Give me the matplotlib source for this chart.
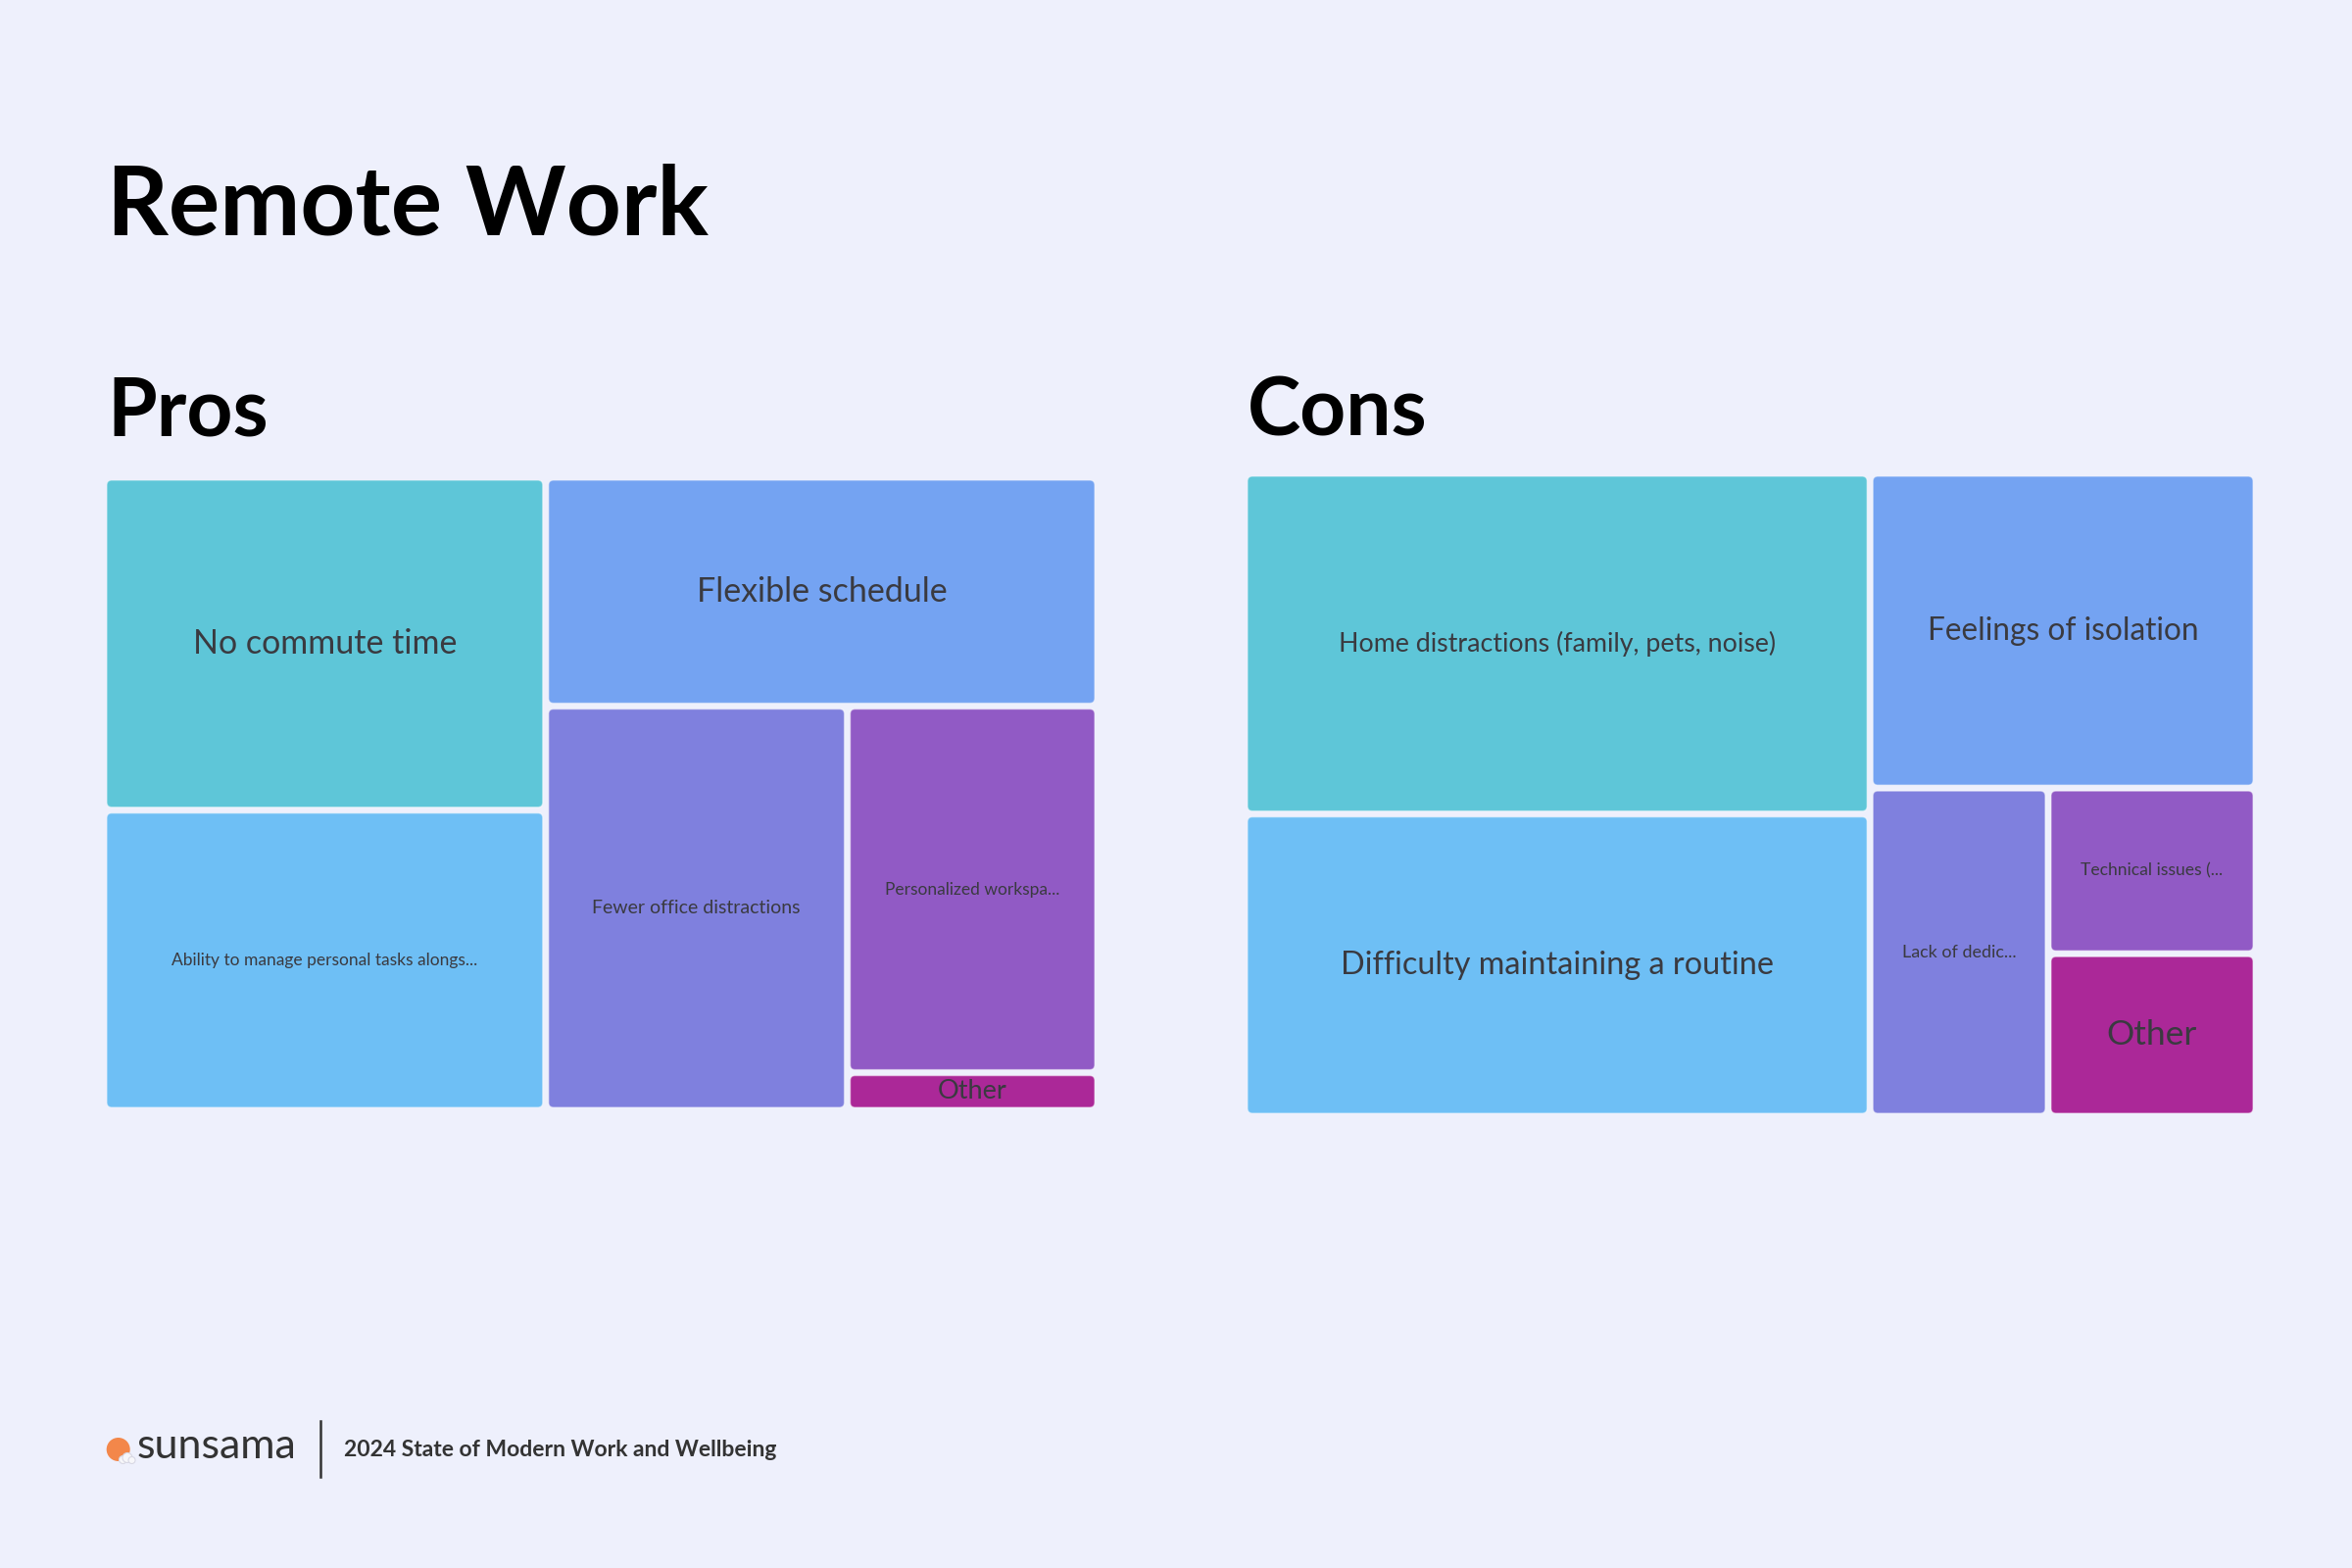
import matplotlib
matplotlib.use("Agg")
import matplotlib.pyplot as plt
from matplotlib.patches import FancyBboxPatch, Circle
import numpy as np

plt.rcParams['font.family'] = ['Lato', 'DejaVu Sans']

# --- data (share of respondents, %) ---
pros_labels = ["No commute time", "Ability to manage personal tasks alongs...",
               "Flexible schedule", "Fewer office distractions",
               "Personalized workspa...", "Other"]
pros_values = [23.4, 21.1, 20.1, 19.4, 14.6, 1.5]

cons_labels = ["Home distractions (family, pets, noise)", "Difficulty maintaining a routine",
               "Feelings of isolation", "Lack of dedic...",
               "Technical issues (...", "Other"]
cons_values = [32.8, 29.1, 18.7, 9.0, 5.3, 5.2]

# --- style ---
bg = "#EEF0FC"
palette = ["#5EC6D8", "#6EBFF5", "#74A3F2", "#7F80DE", "#915AC5", "#AB2898"]
txt_col = "#3a3a40"
pros_fs = [24.5, 12.5, 24.5, 14, 12.5, 19.5]
cons_fs = [19.3, 23.3, 22.8, 12.9, 12.6, 25.5]
gap = 6


def binary_layout(values, x0, y0, x1, y1):
    '''d3 style binary treemap: split the sorted list near half of its sum'''
    sums = np.concatenate([[0.0], np.cumsum(values)])
    rects = [None] * len(values)

    def part(i, j, value, x0, y0, x1, y1):
        if i >= j - 1:
            rects[i] = (x0, y0, x1, y1)
            return
        offset = sums[i]
        target = value / 2 + offset
        k, hi = i + 1, j - 1
        while k < hi:
            mid = (k + hi) // 2
            if sums[mid] < target:
                k = mid + 1
            else:
                hi = mid
        if target - sums[k - 1] < sums[k] - target and i + 1 < k:
            k -= 1
        left = sums[k] - offset
        right = value - left
        if x1 - x0 > y1 - y0:
            xk = (x0 * right + x1 * left) / value
            part(i, k, left, x0, y0, xk, y1)
            part(k, j, right, xk, y0, x1, y1)
        else:
            yk = (y0 * right + y1 * left) / value
            part(i, k, left, x0, y0, x1, yk)
            part(k, j, right, x0, yk, x1, y1)

    part(0, len(values), sums[-1], x0, y0, x1, y1)
    return rects


def draw_treemap(ax, labels, values, sizes, W, H):
    ax.set_xlim(0, W)
    ax.set_ylim(H, 0)
    ax.axis("off")
    h = gap / 2
    rects = binary_layout(values, -h, -h, W + h, H + h)
    for (x0, y0, x1, y1), lab, c, fs in zip(rects, labels, palette, sizes):
        box = FancyBboxPatch((x0 + h, y0 + h), x1 - x0 - gap, y1 - y0 - gap,
                             boxstyle="round,pad=0,rounding_size=5",
                             facecolor=c, edgecolor=(1, 1, 1, 0.45), linewidth=1)
        ax.add_patch(box)
        ax.text((x0 + x1) / 2, (y0 + y1) / 2, lab, ha="center", va="center",
                fontsize=fs, color=txt_col)


fig = plt.figure(figsize=(24, 16), dpi=100, facecolor=bg)

ax1 = fig.add_axes([109 / 2400, 1 - 1130 / 1600, 1008 / 2400, 640 / 1600])
draw_treemap(ax1, pros_labels, pros_values, pros_fs, 1008, 640)

ax2 = fig.add_axes([1273 / 2400, 1 - 1136 / 1600, 1026 / 2400, 650 / 1600])
draw_treemap(ax2, cons_labels, cons_values, cons_fs, 1026, 650)

# headings
fig.text(109 / 2400, 1 - 240 / 1600, "Remote Work", fontsize=70.5, fontweight="bold",
         color="black", va="baseline")
fig.text(109 / 2400, 1 - 444 / 1600, "Pros", fontsize=59, fontweight="bold",
         color="black", va="baseline")
fig.text(1273 / 2400, 1 - 444 / 1600, "Cons", fontsize=59, fontweight="bold",
         color="black", va="baseline")

# footer logo
fig.patches.append(Circle((1.207, 1.21), 0.12, transform=fig.dpi_scale_trans,
                          facecolor="#F3874A", edgecolor="none"))
for cx, cy, r in [(1.255, 1.105, 0.04), (1.30, 1.125, 0.05), (1.345, 1.10, 0.035)]:
    fig.patches.append(Circle((cx, cy), r, transform=fig.dpi_scale_trans,
                              facecolor="#F7F7FA", edgecolor="#D8D8E4", linewidth=0.8))
fig.text(140 / 2400, 1 - 1488 / 1600, "sunsama", fontsize=31, color="#333333",
         va="baseline")
fig.add_artist(plt.Line2D([327 / 2400, 327 / 2400], [1 - 1450 / 1600, 1 - 1507 / 1600],
                          transform=fig.transFigure, color="#333333", linewidth=1.8))
fig.text(351 / 2400, 1 - 1486 / 1600, "2024 State of Modern Work and Wellbeing",
         fontsize=16.5, fontweight="bold", color="#333333", va="baseline")

fig.savefig("out.png", dpi=100, facecolor=bg)
